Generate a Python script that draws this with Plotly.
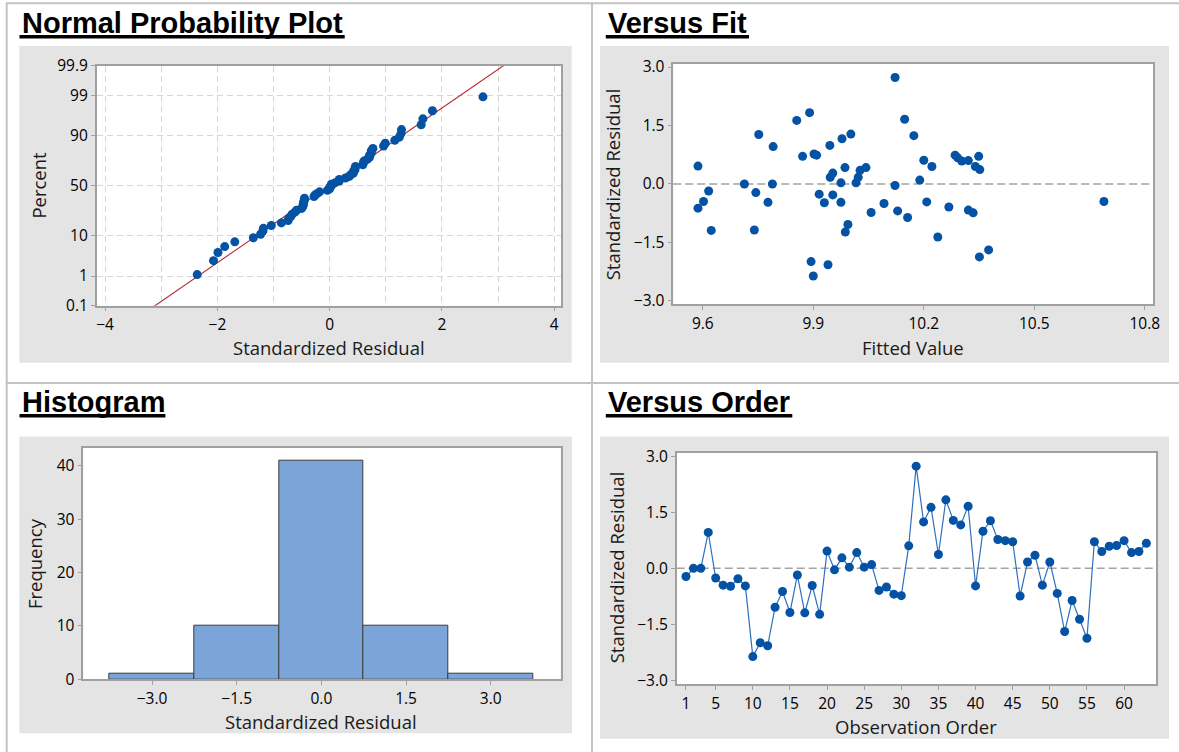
import numpy as np
import plotly.graph_objects as go
from statistics import NormalDist

W, H = 1179, 752

# Standardized residuals in observation order
observation = list(range(1, 64))
std_resid = [-0.22, 0.00, 0.00, 0.96, -0.26, -0.45, -0.48, -0.28, -0.47, -2.36,
             -1.99, -2.07, -1.04, -0.62, -1.18, -0.18, -1.19, -0.46, -1.23, 0.46,
             -0.04, 0.28, 0.03, 0.42, 0.03, 0.10, -0.59, -0.50, -0.69, -0.73,
             0.60, 2.73, 1.24, 1.63, 0.37, 1.83, 1.28, 1.16, 1.66, -0.47,
             0.99, 1.27, 0.77, 0.74, 0.71, -0.74, 0.17, 0.35, -0.45, 0.17,
             -0.67, -1.69, -0.86, -1.36, -1.87, 0.71, 0.45, 0.59, 0.61, 0.74,
             0.42, 0.45, 0.67]

# Fitted values for the same observations
fitted = [9.744, 9.713, 9.789, 9.791, 9.916, 10.689, 9.930, 9.953, 9.777, 9.900,
          9.894, 9.940, 9.994, 9.587, 9.740, 9.616, 9.623, 10.208, 9.987, 9.587,
          10.122, 9.953, 9.975, 9.986, 10.016, 10.189, 10.268, 10.092, 10.129, 10.057,
          10.321, 10.122, 10.173, 9.855, 10.352, 9.890, 10.002, 9.978, 10.148, 9.975,
          9.945, 9.752, 9.902, 9.909, 10.349, 10.334, 9.946, 10.027, 9.602, 10.022,
          10.321, 10.376, 10.156, 10.238, 10.351, 9.871, 10.340, 10.303, 10.200, 10.285,
          10.043, 10.222, 10.292]

pct_ticks = [0.1, 1, 10, 50, 90, 99, 99.9]
pct_labels = ["0.1", "1", "10", "50", "90", "99", "99.9"]
npp_xticks = [-4, -2, 0, 2, 4]
fit_xticks = [9.6, 9.9, 10.2, 10.5, 10.8]
resid_ticks = [-3.0, -1.5, 0.0, 1.5, 3.0]
freq_ticks = [0, 10, 20, 30, 40]
order_ticks = [1, 5, 10, 15, 20, 25, 30, 35, 40, 45, 50, 55, 60]

# Normal probability scale (median ranks)
nd = NormalDist()
n = len(std_resid)
sorted_resid = sorted(std_resid)
npp_z = [nd.inv_cdf((i - 0.3) / (n + 0.4)) for i in range(1, n + 1)]
pct_z = [nd.inv_cdf(p / 100) for p in pct_ticks]
mu, sd = float(np.mean(std_resid)), float(np.std(std_resid, ddof=1))
line_z = [-3.6, 3.6]
line_x = [mu + sd * z for z in line_z]

BLUE = "#0352A4"
FRAME = "#A0A0A0"
GRID = "#D6D6D6"
PANEL = "#E4E4E4"
BORDER = "#C3C3C3"
TICKFONT = dict(family="Open Sans", size=15.5, color="#000000")
LABELFONT = dict(family="Open Sans", size=18.5, color="#1a1a1a")
TITLEFONT = dict(family="Liberation Sans", size=29, color="#000000")


def px(x):
    return x / W


def py(y):
    return 1 - y / H


def axis(x0, x1, rng, **kw):
    d = dict(domain=[px(x0), px(x1)], range=rng, showline=True, linecolor=FRAME,
             linewidth=1.5, mirror=True, ticks="outside", ticklen=4,
             tickcolor=FRAME, tickwidth=1, zeroline=False, showgrid=False,
             tickfont=TICKFONT, fixedrange=True, automargin=False)
    d.update(kw)
    return d


def yaxis(y0, y1, rng, **kw):
    d = axis(0, 0, rng, **kw)
    d["domain"] = [py(y1), py(y0)]
    return d


# plot-area rectangles in pixels: (left, top, right, bottom)
AREA1 = (96.7, 65.7, 561, 305.7)
AREA2 = (673.3, 64, 1153.3, 304.3)
AREA3 = (83.3, 447.7, 560.7, 679.3)
AREA4 = (676.7, 452.7, 1156, 684.3)

fig = go.Figure()

# Normal probability plot
fig.add_trace(go.Scatter(x=line_x, y=line_z, mode="lines",
                         line=dict(color="#B7282E", width=1.1),
                         xaxis="x", yaxis="y", hoverinfo="skip"))
fig.add_trace(go.Scatter(x=sorted_resid, y=npp_z, mode="markers",
                         marker=dict(color=BLUE, size=9),
                         xaxis="x", yaxis="y"))

# Versus fit
fig.add_trace(go.Scatter(x=fitted, y=std_resid, mode="markers",
                         marker=dict(color=BLUE, size=9),
                         xaxis="x2", yaxis="y2"))

# Histogram
fig.add_trace(go.Histogram(x=std_resid, xbins=dict(start=-3.75, end=3.75, size=1.5),
                           marker=dict(color="#7BA5D8", line=dict(color="#3C3C3C", width=1)),
                           xaxis="x3", yaxis="y3"))

# Versus order
fig.add_trace(go.Scatter(x=observation, y=std_resid, mode="lines+markers",
                         line=dict(color="#2F6FBF", width=1.2),
                         marker=dict(color=BLUE, size=9),
                         xaxis="x4", yaxis="y4"))

fig.update_layout(
    template="none",
    width=W, height=H, margin=dict(l=0, r=0, t=0, b=0, pad=0, autoexpand=False),
    paper_bgcolor="#FFFFFF", plot_bgcolor="#FFFFFF", showlegend=False,
    bargap=0,
    xaxis=axis(AREA1[0], AREA1[2], [-4.15, 4.12], anchor="y",
               tickvals=npp_xticks, showgrid=True, gridcolor=GRID,
               griddash="6px,4px", gridwidth=1,
               minor=dict(tickmode="linear", tick0=0, dtick=1, showgrid=True,
                          gridcolor=GRID, griddash="6px,4px", ticks="")),
    yaxis=yaxis(AREA1[1], AREA1[3], [pct_z[0], pct_z[-1]], anchor="x",
                tickvals=pct_z, ticktext=pct_labels, showgrid=True,
                gridcolor=GRID, griddash="6px,4px", gridwidth=1),
    xaxis2=axis(AREA2[0], AREA2[2], [9.52, 10.823], anchor="y2",
                tickvals=fit_xticks, tickformat=".1f"),
    yaxis2=yaxis(AREA2[1], AREA2[3], [-3.085, 3.077], anchor="x2",
                 tickvals=resid_ticks, tickformat=".1f"),
    xaxis3=axis(AREA3[0], AREA3[2], [-4.217, 4.24], anchor="y3",
                tickvals=resid_ticks, tickformat=".1f"),
    yaxis3=yaxis(AREA3[1], AREA3[3], [0, 43.4], anchor="x3",
                 tickvals=freq_ticks),
    xaxis4=axis(AREA4[0], AREA4[2], [-0.25, 64.3], anchor="y4",
                tickvals=order_ticks),
    yaxis4=yaxis(AREA4[1], AREA4[3], [-3.10, 3.09], anchor="x4",
                 tickvals=resid_ticks, tickformat=".1f"),
)


def prect(x0, y0, x1, y1, color, layer="below"):
    return dict(type="rect", xref="paper", yref="paper", layer=layer,
                x0=px(x0), x1=px(x1), y0=py(y1), y1=py(y0),
                fillcolor=color, line=dict(width=0))


shapes = []
# grey panels
for box in [(19.3, 46, 571.7, 362.7), (600, 46, 1169, 362.7),
            (19.3, 436.5, 572, 733.3), (600, 436.5, 1169, 738.7)]:
    shapes.append(prect(*box, PANEL))
# white plot areas
for xa, ya in [("x", "y"), ("x2", "y2"), ("x3", "y3"), ("x4", "y4")]:
    shapes.append(dict(type="rect", xref=f"{xa} domain", yref=f"{ya} domain",
                       layer="below", x0=0, x1=1, y0=0, y1=1,
                       fillcolor="#FFFFFF", line=dict(width=0)))
# table rules
for x0, y0, x1, y1 in [(6, 3.3, W, 3.3), (6.7, 3, 6.7, H), (592, 3, 592, H),
                       (6, 383, W, 383)]:
    shapes.append(dict(type="line", xref="paper", yref="paper", layer="below",
                       x0=px(x0), x1=px(x1), y0=py(y0), y1=py(y1),
                       line=dict(color=BORDER, width=2)))
# title underlines
for x0, x1, y0 in [(19.5, 344.7, 35), (605.8, 749, 35), (19.5, 165.4, 414),
                   (605.8, 792.3, 414)]:
    shapes.append(prect(x0, y0, x1, y0 + 3.6, "#000000", layer="above"))
# zero reference lines
for xa, ya in [("x2", "y2"), ("x4", "y4")]:
    shapes.append(dict(type="line", xref=f"{xa} domain", yref=ya, layer="below",
                       x0=0, x1=1, y0=0, y1=0,
                       line=dict(color="#A3A3A3", width=1.5, dash="8px,4px")))
fig.update_layout(shapes=shapes)

ann = []
for text, x, y in [("Normal Probability Plot", 19.5, 23), ("Versus Fit", 605.8, 23),
                   ("Histogram", 19.5, 401.5), ("Versus Order", 605.8, 401.5)]:
    ann.append(dict(text=f"<b>{text}</b>", x=px(x), y=py(y), xref="paper", yref="paper",
                    xanchor="left", yanchor="middle", showarrow=False, font=TITLEFONT))
for text, x, y in [("Standardized Residual", 328.9, 347.5), ("Fitted Value", 913.3, 347.5),
                   ("Standardized Residual", 321, 721.5), ("Observation Order", 915.7, 726.5)]:
    ann.append(dict(text=text, x=px(x), y=py(y), xref="paper", yref="paper",
                    xanchor="center", yanchor="middle", showarrow=False, font=LABELFONT))
for text, x, y in [("Percent", 37.6, 185), ("Standardized Residual", 613.3, 184),
                   ("Frequency", 33.8, 563.3), ("Standardized Residual", 616.3, 567)]:
    ann.append(dict(text=text, x=px(x), y=py(y), xref="paper", yref="paper",
                    xanchor="center", yanchor="middle", showarrow=False,
                    textangle=-90, font=LABELFONT))
fig.update_layout(annotations=ann)

fig.write_html("out.html")
